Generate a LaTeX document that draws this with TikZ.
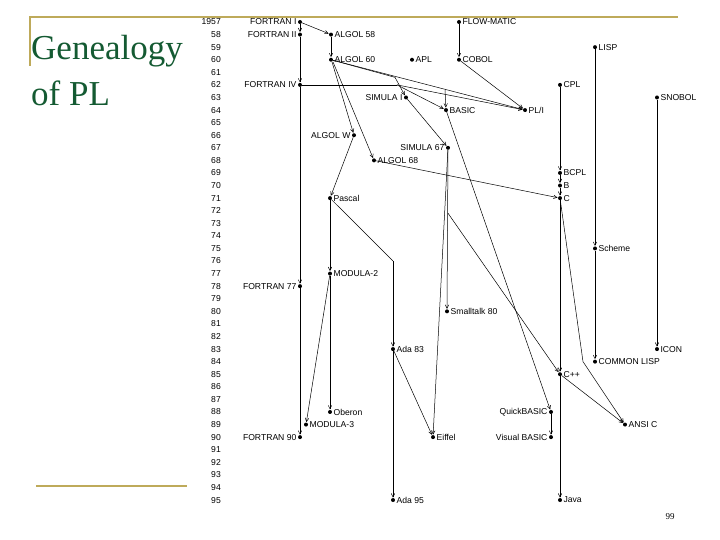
\documentclass[tikz,border=0pt]{standalone}
\usepackage{fontspec}
\setmainfont{Liberation Serif}
\setsansfont{Liberation Sans}
\usetikzlibrary{arrows.meta}
\definecolor{gold}{RGB}{190,170,90}
\definecolor{ttl}{RGB}{20,90,50}
\begin{document}
\begin{tikzpicture}[x=1pt,y=-1pt,
  dot/.style={circle,fill=black,inner sep=0pt,minimum size=4pt},
  lbl/.style={font=\sffamily\fontsize{8.6}{10}\selectfont,inner sep=1.2pt},
  yrlbl/.style={font=\sffamily\fontsize{8.6}{10}\selectfont,anchor=east,inner sep=0pt},
  ed/.style={-{Straight Barb[length=3.5pt,width=3.5pt]},line width=0.5pt,shorten >=0.3pt},
  ln/.style={line width=0.5pt}]
\useasboundingbox (0,0) rectangle (720,540);
\draw[gold,line width=1.5pt] (30,66) -- (30,17) -- (678,17);
\draw[gold,line width=1.5pt] (36,486) -- (187,486);
\node[anchor=base west,text=ttl,font=\fontsize{35}{40}\selectfont,inner sep=0pt] (t1) at (31,60) {Genealogy};
\node[anchor=base west,text=ttl,font=\fontsize{35}{40}\selectfont,inner sep=0pt] (t2) at (31,106) {of PL};
\node[font=\fontsize{9}{10}\selectfont] (pg) at (670,517) {99};
\begin{scope}[y=-12.58pt,yshift=-22pt]
\node[yrlbl] (y57) at (221,0) {1957};
\foreach \n in {58,...,95}{\node[yrlbl] (y\n) at (221,\n-57) {\n};}
% nodes
\newcommand{\lang}[5]{\node[dot,label={[lbl]#4:#5}] (#1) at (#2,#3-1957) {};}
\lang{fi}{300}{1957}{left}{FORTRAN I}
\lang{fii}{300}{1958}{left}{FORTRAN II}
\lang{fiv}{300}{1962}{left}{FORTRAN IV}
\lang{f77}{300}{1978}{left}{FORTRAN 77}
\lang{f90}{300}{1990}{left}{FORTRAN 90}
\lang{a58}{331}{1958}{right}{ALGOL 58}
\lang{a60}{331}{1960}{right}{ALGOL 60}
\lang{apl}{412}{1960}{right}{APL}
\lang{fm}{459}{1957}{right}{FLOW-MATIC}
\lang{cob}{459}{1960}{right}{COBOL}
\lang{lisp}{595}{1959}{right}{LISP}
\lang{cpl}{560}{1962}{right}{CPL}
\lang{sim1}{406}{1963}{left}{SIMULA I}
\lang{snob}{657}{1963}{right}{SNOBOL}
\lang{basic}{446}{1964}{right}{BASIC}
\lang{pli}{525}{1964}{right}{PL/I}
\lang{aw}{354}{1966}{left}{ALGOL W}
\lang{sim67}{448}{1967}{left}{SIMULA 67}
\lang{a68}{374}{1968}{right}{ALGOL 68}
\lang{bcpl}{560}{1969}{right}{BCPL}
\lang{b}{560}{1970}{right}{B}
\lang{c}{560}{1971}{right}{C}
\lang{pas}{330}{1971}{right}{Pascal}
\lang{sch}{595}{1975}{right}{Scheme}
\lang{m2}{330}{1977}{right}{MODULA-2}
\lang{st}{447}{1980}{right}{Smalltalk 80}
\lang{ada83}{393}{1983}{right}{Ada 83}
\lang{icon}{657}{1983}{right}{ICON}
\lang{cl}{595}{1984}{right}{COMMON LISP}
\lang{cpp}{560}{1985}{right}{C++}
\lang{ob}{330}{1988}{right}{Oberon}
\lang{qb}{551}{1988}{left}{QuickBASIC}
\lang{ansi}{625}{1989}{right}{ANSI C}
\lang{m3}{306}{1989}{right}{MODULA-3}
\lang{eif}{433}{1990}{right}{Eiffel}
\lang{vb}{551}{1990}{left}{Visual BASIC}
\lang{ada95}{393}{1995}{right}{Ada 95}
\lang{java}{560}{1995}{right}{Java}
% helper coordinates
\coordinate (k1) at (395,4.4);
\coordinate (k2) at (397,5);
\coordinate (k3) at (445,5.4);
\coordinate (k4) at (393,19);
\coordinate (k5) at (448,15.2);
\coordinate (k6) at (583,27.0);
% edges
\draw[ed] (fi) -- (fii);
\draw[ed] (fii) -- (fiv);
\draw[ed] (fiv) -- (f77);
\draw[ed] (f77) -- (f90);
\draw[ed] (fi) -- (a58);
\draw[ed] (a58) -- (a60);
\draw[ed] (fm) -- (cob);
\draw[ed] (cob) -- (pli);
\draw[ed] (a60) -- (pli);
\draw[ed] (k3) -- (basic);
\draw[ln] (a60) -- (k1); \draw[ed] (k1) -- (sim1);
\draw[ln] (fiv) -- (k2); \draw[ed] (k2) -- (basic); \draw[ed] (k2) -- (pli);
\draw[ed] (sim1) -- (sim67);
\draw[ed] ([xshift=1pt]a60.south) -- (aw);
\draw[ed] ([xshift=2pt]a60.south) -- (a68);
\draw[ed] (aw) -- (pas);
\draw[ed] (a68) -- (c);
\draw[ed] (cpl) -- (bcpl);
\draw[ed] (bcpl) -- (b);
\draw[ed] (b) -- (c);
\draw[ed] (pas) -- (m2);
\draw[ed] (m2) -- (ob);
\draw[ed] (m2) -- (m3);
\draw[ln] (pas) -- (k4); \draw[ed] (k4) -- (ada83);
\draw[ed] (ada83) -- (ada95);
\draw[ed] (ada83) -- (eif);
\draw[ed] (sim67) -- (st);
\draw[ed] (sim67) -- (eif);
\draw[ed] (k5) -- (cpp);
\draw[ed] (basic) -- (qb);
\draw[ed] (qb) -- (vb);
\draw[ed] (c) -- (cpp);
\draw[ed] (cpp) -- (java);
\draw[ln] (c) -- (k6); \draw[ed] (k6) -- (ansi);
\draw[ed] (cpp) -- (ansi);
\draw[ed] (lisp) -- (sch);
\draw[ed] (sch) -- (cl);
\draw[ed] (snob) -- (icon);
\end{scope}
\end{tikzpicture}
\end{document}
